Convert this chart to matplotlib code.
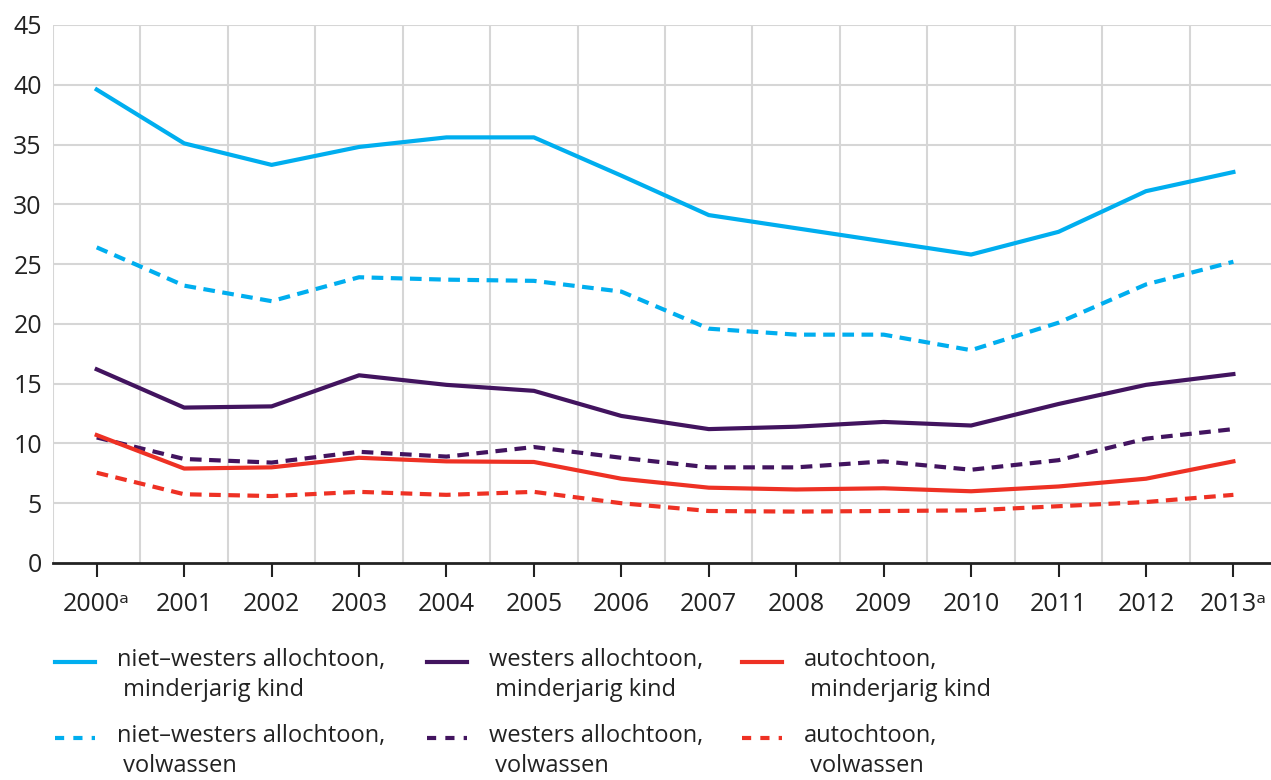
import numpy as np
import matplotlib
matplotlib.use("Agg")
import matplotlib.pyplot as plt
from matplotlib.lines import Line2D

# Data
years = list(range(2000, 2014))
year_labels = ["2000ᵃ"] + [str(y) for y in range(2001, 2013)] + ["2013ᵃ"]

nw_kind = [39.6, 35.1, 33.3, 34.8, 35.6, 35.6, 32.4, 29.1, 28.0, 26.9, 25.8, 27.7, 31.1, 32.7]
nw_volw = [26.4, 23.2, 21.9, 23.9, 23.7, 23.6, 22.7, 19.6, 19.1, 19.1, 17.8, 20.1, 23.3, 25.2]
w_kind = [16.2, 13.0, 13.1, 15.7, 14.9, 14.4, 12.3, 11.2, 11.4, 11.8, 11.5, 13.3, 14.9, 15.8]
w_volw = [10.5, 8.7, 8.4, 9.3, 8.9, 9.7, 8.8, 8.0, 8.0, 8.5, 7.8, 8.6, 10.4, 11.2]
a_kind = [10.7, 7.9, 8.0, 8.8, 8.5, 8.45, 7.05, 6.3, 6.15, 6.25, 6.0, 6.4, 7.05, 8.5]
a_volw = [7.55, 5.75, 5.6, 5.95, 5.7, 5.95, 5.0, 4.35, 4.3, 4.35, 4.4, 4.75, 5.1, 5.7]

labels = [
    ("niet\u2013westers allochtoon,\n minderjarig kind", "niet\u2013westers allochtoon,\n volwassen"),
    ("westers allochtoon,\n minderjarig kind", "westers allochtoon,\n volwassen"),
    ("autochtoon,\n minderjarig kind", "autochtoon,\n volwassen"),
]

CYAN = "#00aeef"
PURPLE = "#42145f"
RED = "#ee3124"
colors = [CYAN, PURPLE, RED]
series = [(nw_kind, nw_volw), (w_kind, w_volw), (a_kind, a_volw)]

tick_font = ["Open Sans", "DejaVu Sans"]
legend_font = ["Open Sans", "DejaVu Sans"]

fig = plt.figure(figsize=(12.71, 7.8), dpi=100)
ax = fig.add_axes([53 / 1271, 1 - 563 / 780, 1 - 53 / 1271, 538 / 780])

DASH = (2.8, 1.8)
for (kind, volw), c in zip(series, colors):
    ax.plot(years, kind, color=c, lw=3, zorder=3)
    ax.plot(years, volw, color=c, lw=3, dashes=DASH, zorder=3)

ax.set_xlim(1999.5, 2013.43)
ax.set_ylim(0, 45)

# grid
for y in range(5, 50, 5):
    ax.axhline(y, color="#d6d6d6", lw=1.5, zorder=1)
for x in np.arange(1999.5, 2013, 1.0):
    ax.axvline(x, color="#d6d6d6", lw=1.5, zorder=1)

for s in ["top", "right", "left"]:
    ax.spines[s].set_visible(False)
ax.spines["bottom"].set_color("#222222")
ax.spines["bottom"].set_linewidth(2)
ax.spines["bottom"].set_zorder(4)

ax.set_xticks(years)
ax.set_xticklabels(year_labels, fontsize=18, family=tick_font, color="#222222")
ax.tick_params(axis="x", direction="out", length=10, width=1.5, color="#222222", pad=11)
ax.set_yticks(range(0, 50, 5))
ax.set_yticklabels([str(v) for v in range(0, 50, 5)], fontsize=18, family=tick_font, color="#222222")
ax.tick_params(axis="y", length=0, pad=8)

# legend, drawn by hand to keep handles on the first text line
col_x = [55, 427, 742]
row_y = [662, 738]
for i, c in enumerate(colors):
    for j in range(2):
        x0 = col_x[i]
        y0 = 1 - row_y[j] / 780
        kw = dict(color=c, lw=3, transform=fig.transFigure)
        if j == 1:
            kw["dashes"] = (2.2, 2.2)
        fig.add_artist(Line2D([x0 / 1271, (x0 + 40) / 1271], [y0, y0], **kw))
        fig.text((x0 + 62) / 1271, y0 + 14 / 780, labels[i][j], fontsize=17,
                 family=legend_font, color="#222222", va="top", ha="left",
                 linespacing=1.35)

fig.savefig("out.png", dpi=100)
